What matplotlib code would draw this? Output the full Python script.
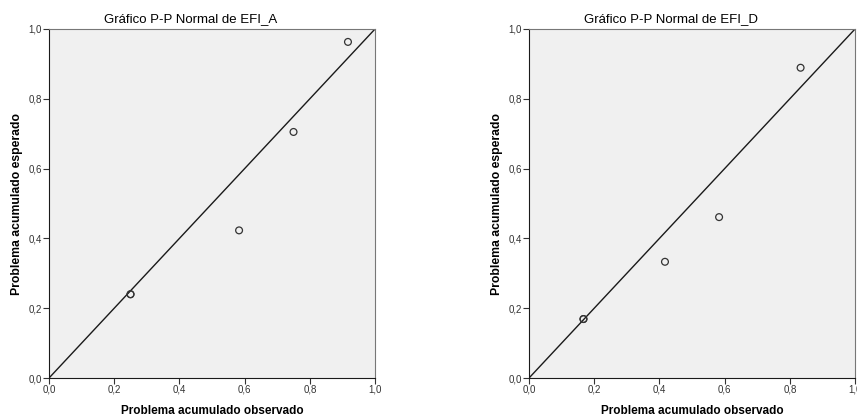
import matplotlib
matplotlib.use('Agg')
import matplotlib.pyplot as plt
from matplotlib.ticker import FuncFormatter

plt.rcParams['font.family'] = ['Liberation Sans', 'DejaVu Sans']

# probabilidad acumulada observada / esperada
obs_a = [0.25, 0.25, 0.583, 0.75, 0.917]
esp_a = [0.24, 0.24, 0.423, 0.705, 0.963]
obs_d = [0.167, 0.167, 0.417, 0.583, 0.833]
esp_d = [0.169, 0.169, 0.333, 0.461, 0.889]

titles = ['Gráfico P-P Normal de EFI_A', 'Gráfico P-P Normal de EFI_D']
ticks = [0.0, 0.2, 0.4, 0.6, 0.8, 1.0]

fig = plt.figure(figsize=(8.57, 4.16), dpi=100)
ax1 = fig.add_axes([0.0572, 0.0913, 0.3804, 0.839])
ax2 = fig.add_axes([0.6173, 0.0913, 0.3804, 0.839])

coma = FuncFormatter(lambda v, p: ('%.1f' % v).replace('.', ','))

for ax, xs, ys, t in [(ax1, obs_a, esp_a, titles[0]), (ax2, obs_d, esp_d, titles[1])]:
    ax.set_facecolor('#f0f0f0')
    ax.plot([0, 1], [0, 1], color='#1a1a1a', lw=1.0, zorder=2)
    ax.scatter(xs, ys, s=24, facecolors='none', edgecolors='#333333', linewidths=0.9, zorder=3)
    ax.set_xlim(0, 1)
    ax.set_ylim(0, 1)
    ax.set_xticks(ticks)
    ax.set_yticks(ticks)
    ax.xaxis.set_major_formatter(coma)
    ax.yaxis.set_major_formatter(coma)
    ax.tick_params(direction='out', length=4, width=0.8, labelsize=7, colors='#333333', pad=1)
    for s in ax.spines.values():
        s.set_color('#777777')
        s.set_linewidth(0.8)
    ax.spines['bottom'].set_color('#1a1a1a')
    ax.spines['left'].set_color('#1a1a1a')
    # el titulo va algo a la izquierda del centro del eje
    ax.set_title(t, fontsize=9.5, pad=5, x=0.435)
    ax.set_xlabel('Problema acumulado observado', fontsize=8.5, fontweight='bold', labelpad=7)
    ax.set_ylabel('Problema acumulado esperado', fontsize=8.8, fontweight='bold', labelpad=4)

fig.savefig('out.png', dpi=100)
